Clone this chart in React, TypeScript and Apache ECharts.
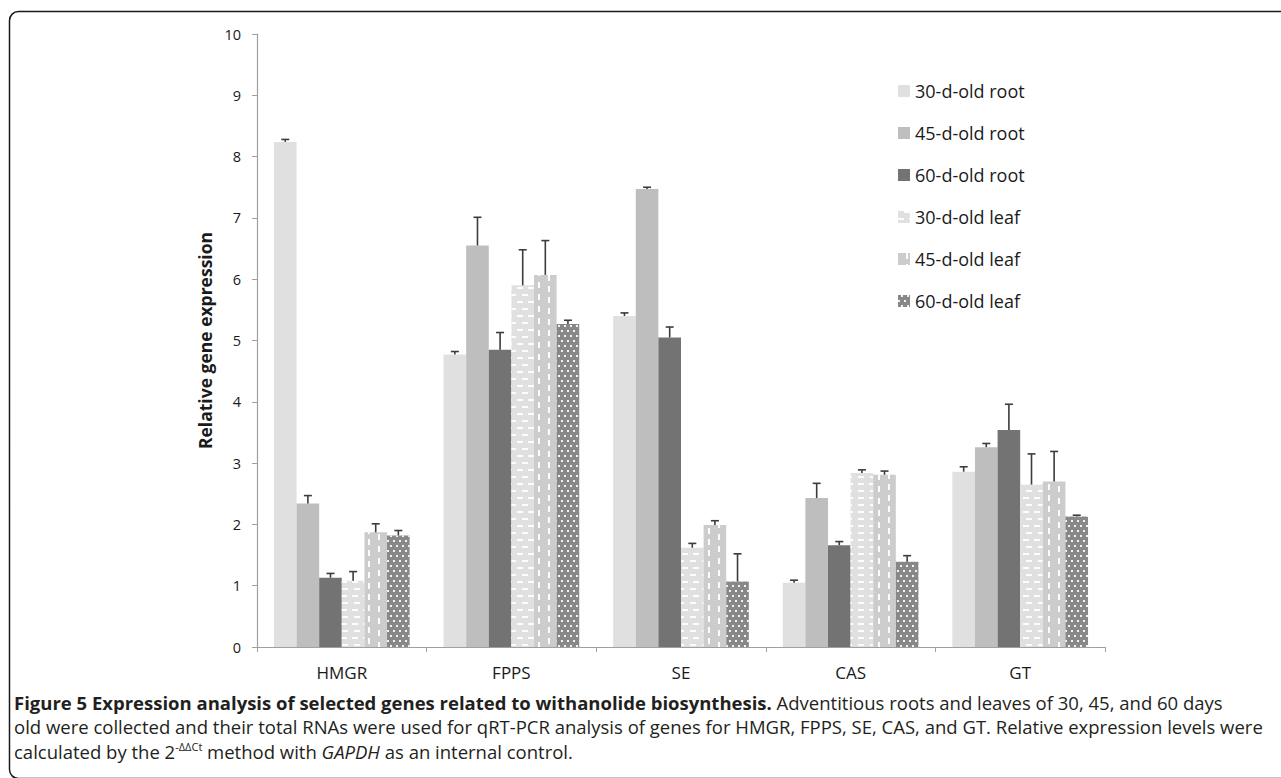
import React, { useEffect, useRef } from "react";
import * as echarts from "echarts";

const categories = ["HMGR", "FPPS", "SE", "CAS", "GT"];
const seriesNames = [
  "30-d-old root",
  "45-d-old root",
  "60-d-old root",
  "30-d-old leaf",
  "45-d-old leaf",
  "60-d-old leaf",
];
const root30 = [8.24, 4.77, 5.4, 1.05, 2.86];
const root45 = [2.34, 6.55, 7.47, 2.43, 3.26];
const root60 = [1.13, 4.85, 5.05, 1.66, 3.54];
const leaf30 = [1.08, 5.9, 1.62, 2.84, 2.65];
const leaf45 = [1.87, 6.07, 1.99, 2.81, 2.7];
const leaf60 = [1.82, 5.27, 1.07, 1.39, 2.13];
const root30Err = [0.04, 0.05, 0.05, 0.04, 0.08];
const root45Err = [0.13, 0.46, 0.03, 0.24, 0.06];
const root60Err = [0.07, 0.28, 0.17, 0.06, 0.42];
const leaf30Err = [0.15, 0.58, 0.07, 0.05, 0.5];
const leaf45Err = [0.14, 0.56, 0.07, 0.06, 0.49];
const leaf60Err = [0.08, 0.06, 0.45, 0.1, 0.02];
const yTicks = [0, 1, 2, 3, 4, 5, 6, 7, 8, 9, 10];

const values = [root30, root45, root60, leaf30, leaf45, leaf60];
const errors = [root30Err, root45Err, root60Err, leaf30Err, leaf45Err, leaf60Err];
const colors = ["#e0e0e0", "#bebebe", "#737373", "#e0e0e0", "#cccccc", "#888888"];

const FONT = "'Open Sans', 'Noto Sans', sans-serif";

const decals: any[] = [
  null,
  null,
  null,
  {
    symbol: "rect",
    symbolSize: 1,
    color: "rgba(255,255,255,0.95)",
    dashArrayX: [[6, 5], [0, 5.5, 6, 0]],
    dashArrayY: [2, 5],
  },
  {
    symbol: "rect",
    symbolSize: 1,
    color: "rgba(255,255,255,0.95)",
    dashArrayX: [[6, 5], [0, 5.5, 6, 0]],
    dashArrayY: [2, 8],
    rotation: Math.PI / 2,
  },
  {
    symbol: "rect",
    symbolSize: 1,
    color: "rgba(255,255,255,0.9)",
    dashArrayX: [[1.6, 3.2], [0, 2.4, 1.6, 0.8]],
    dashArrayY: [1.6, 3],
  },
];

export default function App() {
  const ref = useRef<HTMLDivElement>(null);
  useEffect(() => {
    if (!ref.current) return;
    const chart = echarts.init(ref.current, null, { renderer: "svg" });

    const barSeries = seriesNames.map((name, i) => ({
      name,
      type: "bar",
      data: values[i],
      barGap: "0%",
      barCategoryGap: "20%",
      itemStyle: {
        color: colors[i],
        ...(decals[i] ? { decal: decals[i] } : {}),
      },
      z: 2,
    }));

    const errData: number[][] = [];
    for (let s = 0; s < 6; s++) {
      for (let c = 0; c < categories.length; c++) {
        errData.push([c, s, values[s][c], errors[s][c]]);
      }
    }

    const errSeries = {
      type: "custom",
      name: "err",
      data: errData,
      encode: { x: 0, y: 2 },
      z: 5,
      silent: true,
      renderItem: (params: any, api: any) => {
        const c = api.value(0);
        const s = api.value(1);
        const v = api.value(2);
        const e = api.value(3);
        const base = api.coord([c, v]);
        const top = api.coord([c, v + e]);
        const band = api.size([1, 0])[0];
        const bw = (band * 0.8) / 6;
        const x = base[0] + (s - 2.5) * bw;
        const style = { stroke: "#3c3c3c", lineWidth: 1.6 };
        return {
          type: "group",
          children: [
            { type: "line", shape: { x1: x, y1: base[1], x2: x, y2: top[1] }, style },
            { type: "line", shape: { x1: x - 4, y1: top[1], x2: x + 4, y2: top[1] }, style },
          ],
        };
      },
    };

    chart.setOption({
      animation: false,
      textStyle: { fontFamily: FONT },
      grid: { left: 257, right: 176, top: 34, bottom: 131, containLabel: false },
      legend: {
        data: seriesNames,
        orient: "vertical",
        left: 893,
        top: 77,
        itemWidth: 12,
        itemHeight: 12,
        itemGap: 24,
        icon: "rect",
        textStyle: { fontSize: 18, color: "#1a1a1a", fontFamily: FONT },
      },
      xAxis: {
        type: "category",
        data: categories,
        axisLine: { lineStyle: { color: "#a0a0a0", width: 1.2 } },
        axisTick: { show: true, length: 5, lineStyle: { color: "#a0a0a0" } },
        axisLabel: { fontSize: 17, color: "#1a1a1a", margin: 17, fontFamily: FONT },
      },
      yAxis: {
        type: "value",
        min: 0,
        max: 10,
        interval: 1,
        name: "Relative gene expression",
        nameLocation: "middle",
        nameGap: 42,
        nameTextStyle: { fontSize: 17.5, fontWeight: "bold", color: "#1a1a1a", fontFamily: FONT },
        axisLine: { show: true, lineStyle: { color: "#a0a0a0", width: 1.2 } },
        axisTick: { show: true, length: 5, lineStyle: { color: "#a0a0a0" } },
        splitLine: { show: false },
        axisLabel: {
          fontSize: 14.5,
          color: "#1a1a1a",
          margin: 16,
          fontFamily: FONT,
          formatter: (v: number) => (yTicks.includes(v) ? String(v) : ""),
        },
      },
      series: [...barSeries, errSeries],
      graphic: [
        {
          type: "rect",
          shape: { x: 9.5, y: 11.5, width: 1400, height: 767, r: 9 },
          style: { fill: "none", stroke: "#1a1a1a", lineWidth: 1.5 },
          silent: true,
        },
        {
          type: "text",
          x: 14,
          y: 702,
          style: {
            text:
              "{b|Figure 5 Expression analysis of selected genes related to withanolide biosynthesis.} Adventitious roots and leaves of 30, 45, and 60 days",
            fontSize: 18.5,
            fontFamily: FONT,
            fill: "#231f20",
            verticalAlign: "middle",
            rich: { b: { fontWeight: "bold", fontSize: 18.5, fontFamily: FONT, fill: "#231f20" } },
          },
        },
        {
          type: "text",
          x: 14,
          y: 726,
          style: {
            text:
              "old were collected and their total RNAs were used for qRT-PCR analysis of genes for HMGR, FPPS, SE, CAS, and GT. Relative expression levels were",
            fontSize: 18.5,
            fontFamily: FONT,
            fill: "#231f20",
            verticalAlign: "middle",
          },
        },
        {
          type: "text",
          x: 14,
          y: 751,
          style: {
            text: "calculated by the 2{sup|-ΔΔCt} method with {i|GAPDH} as an internal control.",
            fontSize: 18.5,
            fontFamily: FONT,
            fill: "#231f20",
            verticalAlign: "middle",
            lineHeight: 20,
            rich: {
              sup: { fontSize: 11, fontFamily: FONT, fill: "#231f20", verticalAlign: "top", lineHeight: 11 },
              i: { fontStyle: "italic", fontSize: 18.5, fontFamily: FONT, fill: "#231f20" },
            },
          },
        },
      ],
    });
    return () => chart.dispose();
  }, []);
  return (
    <div
      ref={ref}
      style={{ position: "fixed", left: 0, top: 0, width: 1281, height: 778, background: "#fff" }}
    />
  );
}
